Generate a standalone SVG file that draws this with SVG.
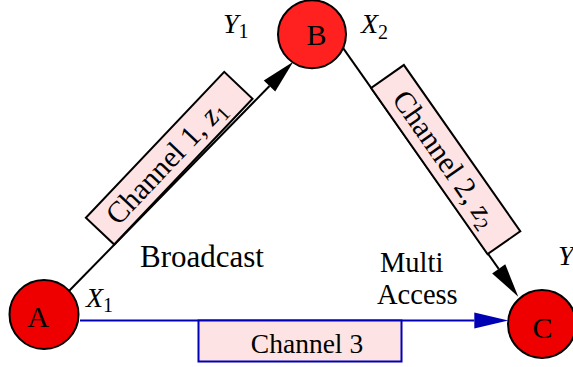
<svg xmlns="http://www.w3.org/2000/svg" width="573" height="367" viewBox="0 0 573 367">
  <style>
    .edge { fill: none; stroke: #000; stroke-width: 2; }
    .edge.blue { stroke: #0000b4; }
    .box { fill: #fde3e3; stroke: #000; stroke-width: 2; }
    .box.blue { stroke: #0000b4; }
    .node circle { stroke: #000; stroke-width: 2; }
    .serif { font-family: "Liberation Serif", "Times New Roman", serif; fill: #000; }
    .nlabel { font-size: 30px; text-anchor: middle; }
    .clabel { font-size: 30px; text-anchor: middle; }
    .clabel3 { font-size: 27.5px; text-anchor: middle; }
    .big { font-size: 31px; }
    .stack { font-size: 28.5px; }
    .var { font-size: 28px; font-style: italic; }
    .sub { font-size: 20px; font-style: normal; }
  </style>
  <defs>
    <marker id="arrow-black" markerUnits="userSpaceOnUse" markerWidth="36" markerHeight="18" viewBox="0 -9 36 18" refX="0" refY="0" orient="auto" overflow="visible">
      <path d="M0,-8 L34,0 L0,8 Z" fill="#000"/>
    </marker>
    <marker id="arrow-blue" markerUnits="userSpaceOnUse" markerWidth="36" markerHeight="18" viewBox="0 -9 36 18" refX="0" refY="0" orient="auto" overflow="visible">
      <path d="M0,-8 L34,0 L0,8 Z" fill="#0000b4"/>
    </marker>
  </defs>

  <!-- connectors with their channel labels -->
  <g id="connectors">
    <path class="edge" d="M68,292 L269.5,86" marker-end="url(#arrow-black)"/>
    <path class="edge" d="M343.3,48.3 L498.7,268.9" marker-end="url(#arrow-black)"/>
    <path class="edge blue" d="M80,320.5 L474.3,320.5" marker-end="url(#arrow-blue)"/>

    <g id="label-channel-1" transform="translate(169.2,158.2) rotate(-46.5)">
      <rect class="box" x="-100.5" y="-19.5" width="201" height="39"/>
      <text class="serif clabel" x="-5" y="10">Channel 1, <tspan font-style="italic">z</tspan><tspan class="sub" dy="5">1</tspan></text>
    </g>
    <g id="label-channel-2" transform="translate(445.7,159.6) rotate(55)">
      <rect class="box" x="-101.5" y="-20" width="203" height="40"/>
      <text class="serif clabel" x="-1" y="10">Channel 2, <tspan font-style="italic">z</tspan><tspan class="sub" dy="5">2</tspan></text>
    </g>
    <g id="label-channel-3">
      <rect class="box blue" x="198.5" y="320.5" width="203" height="41"/>
      <text class="serif clabel3" x="307" y="353">Channel 3</text>
    </g>
  </g>

  <!-- terminal variables and link descriptions -->
  <g id="annotations" class="serif">
    <text class="var" x="86" y="307">X<tspan class="sub" dy="5">1</tspan></text>
    <text class="var" x="223" y="33">Y<tspan class="sub" dy="5">1</tspan></text>
    <text class="var" x="361" y="33">X<tspan class="sub" dy="6">2</tspan></text>
    <text class="var" x="558" y="265">Y</text>
    <text class="big" x="140" y="267">Broadcast</text>
    <text class="stack" x="380" y="272">Multi<tspan x="377" dy="31.6">Access</tspan></text>
  </g>

  <!-- nodes -->
  <g id="node-a" class="node">
    <circle cx="44" cy="314.5" r="34.5" fill="#ee0000"/>
    <text class="serif nlabel" x="38" y="327">A</text>
  </g>
  <g id="node-b" class="node">
    <circle cx="312" cy="34.3" r="34" fill="#ff2020"/>
    <text class="serif nlabel" x="316.5" y="45">B</text>
  </g>
  <g id="node-c" class="node">
    <circle cx="542" cy="324" r="34" fill="#ee0000"/>
    <text class="serif nlabel" x="542.5" y="338">C</text>
  </g>
</svg>
